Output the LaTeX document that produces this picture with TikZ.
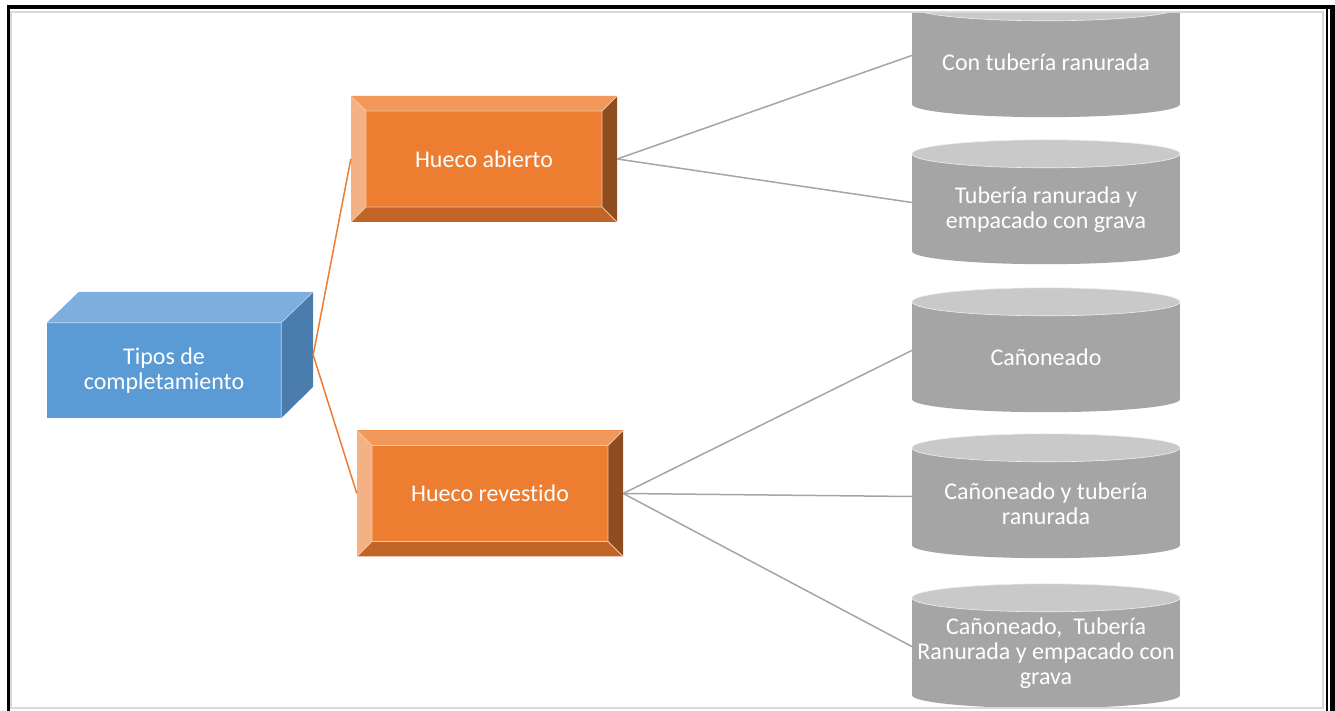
\documentclass[tikz,border=0pt]{standalone}
\usepackage{fontspec}
\setmainfont{Carlito}[Ligatures=NoCommon]
\usetikzlibrary{backgrounds}

\definecolor{tiposfront}{HTML}{5B9BD5}
\definecolor{tipostop}{HTML}{7DAEDE}
\definecolor{tiposside}{HTML}{4A7DAE}
\definecolor{huecofront}{HTML}{ED7D31}
\definecolor{huecotop}{HTML}{F1985A}
\definecolor{huecoleft}{HTML}{F4B183}
\definecolor{huecobottom}{HTML}{C06428}
\definecolor{huecoright}{HTML}{8F4C1F}
\definecolor{cylgray}{HTML}{A5A5A5}
\definecolor{cyltop}{HTML}{C9C9C9}
\definecolor{framegray}{HTML}{D9D9D9}

\begin{document}
\begin{tikzpicture}[
    x=1pt, y=1pt,
    every node/.style={font=\fontsize{24}{25}\selectfont, text=white, align=center},
    cubebox/.style={
        rectangle,
        fill=tiposfront,
        minimum width=234pt,
        minimum height=95pt,
        inner sep=0pt
    },
    bevelbox/.style={
        rectangle,
        fill=huecofront,
        minimum width=266pt,
        minimum height=126pt,
        inner sep=0pt,
        path picture={
            \coordinate (pnw) at (path picture bounding box.north west);
            \coordinate (pne) at (path picture bounding box.north east);
            \coordinate (psw) at (path picture bounding box.south west);
            \coordinate (pse) at (path picture bounding box.south east);
            \fill[huecotop] (pnw) -- (pne) -- ++(-15,-15) -- ++(-236,0) -- cycle;
            \fill[huecoleft] (pnw) -- ++(15,-15) -- ++(0,-96) -- (psw) -- cycle;
            \fill[huecobottom] (psw) -- ++(15,15) -- ++(236,0) -- (pse) -- cycle;
            \fill[huecoright] (pse) -- ++(-15,15) -- ++(0,96) -- (pne) -- cycle;
            \draw[white!55!huecofront, line width=0.8pt]
                ([shift={(15,-15)}]pnw) rectangle ([shift={(-15,15)}]pse)
                (pnw) -- ++(15,-15) (pne) -- ++(-15,-15)
                (psw) -- ++(15,15) (pse) -- ++(-15,15);
        }
    },
    cylbox/.style={
        rectangle,
        minimum width=268pt,
        minimum height=83pt,
        inner sep=0pt
    },
    orangeline/.style={draw=huecofront, line width=1.5pt},
    grayline/.style={draw=cylgray, line width=1.5pt}
]
\useasboundingbox (0,0) rectangle (1335,711);

% left block
\node[cubebox] (tipos) at (164,340.5) {Tipos de\\completamiento};
\fill[tipostop] (tipos.north west) -- ++(32,31) -- ++(234,0) -- (tipos.north east) -- cycle;
\fill[tiposside] (tipos.north east) -- ++(32,31) -- ++(0,-95) -- (tipos.south east) -- cycle;
\draw[white!60!tiposfront, line width=0.6pt] (tipos.north west) -- (tipos.north east) -- (tipos.south east)
    (tipos.north east) -- ++(32,31);
\coordinate (tipos-e) at ([shift={(32,15.5)}]tipos.east);

% middle blocks
\node[bevelbox] (abierto) at (484,552) {Hueco abierto};
\node[bevelbox] (revestido) at (490,217.5) {Hueco revestido};

% cylinders
\node[cylbox] (c1) at (1046,648.5) {Con tubería ranurada};
\node[cylbox] (c2) at (1046,501.5) {Tubería ranurada y\\empacado con grava};
\node[cylbox] (c3) at (1046,353.5) {Cañoneado};
\node[cylbox] (c4) at (1046,207.5) {Cañoneado y tubería\\ranurada};
\node[cylbox] (c5) at (1046,57.5) {Cañoneado,\ \ Tubería\\Ranurada y empacado con\\grava};

\begin{scope}[on background layer]
    \clip (10,0) rectangle (1323,699);
    \foreach \c in {c1,c2,c3,c4,c5} {
        \fill[cylgray] (\c.south) ellipse (134 and 13);
        \fill[cylgray] (\c.south west) rectangle ([yshift=14]\c.north east);
        \fill[cyltop] ([yshift=14]\c.north) ellipse (134 and 14);
        \draw[white!70!cyltop, line width=0.6pt] ([yshift=14]\c.north) ellipse (134 and 14);
    }
\end{scope}

% connectors
\draw[orangeline] (tipos-e) -- (abierto.west);
\draw[orangeline] (tipos-e) -- (revestido.west);

\draw[grayline] (abierto.east) -- ([yshift=7]c1.west);
\draw[grayline] (abierto.east) -- ([yshift=7]c2.west);
\draw[grayline] (revestido.east) -- ([yshift=7]c3.west);
\draw[grayline] (revestido.east) -- ([yshift=7]c4.west);
\draw[grayline] (revestido.east) -- ([yshift=7]c5.west);

% frame
\draw[framegray, line width=2pt] (10.5,699) -- (1322.5,699) -- (1322.5,2.5) -- (10.5,2.5) -- cycle;
\fill[black] (7,701.5) rectangle (1335,706);
\fill[black] (7,0) rectangle (10,706);
\fill[black] (1325.5,0) rectangle (1327.5,706);
\fill[black] (1330,0) rectangle (1335,706);

\end{tikzpicture}
\end{document}
